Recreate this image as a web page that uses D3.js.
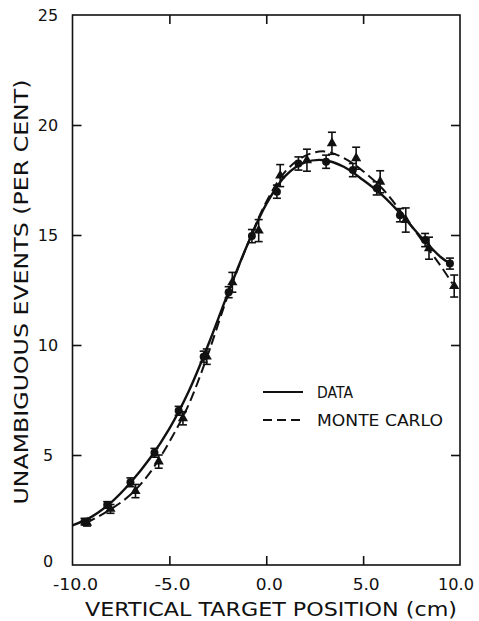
<!DOCTYPE html>
<html>
<head>
<meta charset="utf-8">
<script src="https://cdn.jsdelivr.net/npm/d3@7"></script>
<style>
  body { margin: 0; background: #fff; }
  text { font-family: "DejaVu Sans", "Liberation Sans", sans-serif; fill: #111; }
</style>
</head>
<body>
<div id="chart"></div>
<script>
// measured points (DATA, filled circles)
const dataX = [-9.38, -8.21, -7.01, -5.77, -4.52, -3.23, -1.94, -0.74, 0.55, 1.66, 3.09, 4.47, 5.7, 6.9, 8.2, 9.48];
const dataY = [1.97, 2.73, 3.76, 5.10, 7.01, 9.47, 12.4, 14.95, 16.97, 18.25, 18.33, 17.95, 17.12, 15.9, 14.77, 13.7];
const dataErr = [0.15, 0.15, 0.2, 0.2, 0.2, 0.25, 0.25, 0.3, 0.3, 0.3, 0.3, 0.3, 0.3, 0.3, 0.3, 0.25];

// monte carlo points
const mcX = [-9.25, -8.04, -6.75, -5.55, -4.3, -3.07, -1.75, -0.39, 0.72, 2.1, 3.39, 4.64, 5.88, 7.2, 8.4, 9.7];
const mcY = [1.92, 2.55, 3.36, 4.7, 6.67, 9.47, 12.85, 15.2, 17.7, 18.4, 19.17, 18.49, 17.42, 15.68, 14.4, 12.68];
const mcErr = [0.15, 0.2, 0.3, 0.3, 0.3, 0.35, 0.45, 0.5, 0.5, 0.5, 0.5, 0.5, 0.5, 0.55, 0.5, 0.5];

// smooth curves drawn through each set
const solidX = [-10, -9, -8, -7, -6, -5, -4, -3, -2, -1, 0, 1, 2, 3, 4, 5, 6, 7, 8, 9, 9.48];
const solidY = [1.8, 2.2, 2.85, 3.75, 4.85, 6.2, 7.9, 10.0, 12.3, 14.5, 16.4, 17.7, 18.3, 18.4, 18.1, 17.5, 16.8, 15.9, 14.9, 14.0, 13.7];
const dashX = [-9.3, -8, -7, -6, -5, -4, -3, -2, -1, 0, 1, 2, 3, 4, 5, 6, 7, 8, 9, 9.6];
const dashY = [1.9, 2.55, 3.2, 4.2, 5.6, 7.3, 9.6, 12.2, 14.5, 16.5, 17.9, 18.6, 18.8, 18.5, 17.9, 17.1, 16.0, 14.8, 13.6, 12.8];

const xTicks = [-10, -5, 0, 5, 10];
const xTickLabels = ["-10.0", "-5.0", "0.0", "5.0", "10.0"];
const yTicks = [0, 5, 10, 15, 20, 25];
const yTickLabels = ["0", "5", "10", "15", "20", "25"];
const legendNames = ["DATA", "MONTE CARLO"];

let width = 479;
let height = 621;

let svg = d3.select("#chart").append("svg")
  .attr("width", width)
  .attr("height", height);

let x = d3.scaleLinear().domain([-10, 10]).range([72.5, 460]);
let y = d3.scaleLinear().domain([0, 25]).range([565, 15]);

let tickLen = 9;

// frame
svg.append("rect")
  .attr("x", x(-10))
  .attr("y", y(25))
  .attr("width", x(10) - x(-10))
  .attr("height", y(0) - y(25))
  .attr("fill", "none")
  .attr("stroke", "#111")
  .attr("stroke-width", 1.6);

// inward ticks on all four sides
let axisB = d3.axisBottom(x).tickValues(xTicks.slice(1, -1)).tickSize(-tickLen).tickFormat("");
let axisT = d3.axisTop(x).tickValues(xTicks.slice(1, -1)).tickSize(-tickLen).tickFormat("");
let axisL = d3.axisLeft(y).tickValues(yTicks.slice(1, -1)).tickSize(-tickLen).tickFormat("");
let axisR = d3.axisRight(y).tickValues(yTicks.slice(1, -1)).tickSize(-tickLen).tickFormat("");

svg.append("g").attr("transform", `translate(0, ${y(0)})`).call(axisB);
svg.append("g").attr("transform", `translate(0, ${y(25)})`).call(axisT);
svg.append("g").attr("transform", `translate(${x(-10)}, 0)`).call(axisL);
svg.append("g").attr("transform", `translate(${x(10)}, 0)`).call(axisR);

svg.selectAll(".domain").remove();
svg.selectAll(".tick line").attr("stroke", "#111").attr("stroke-width", 1.6);

// tick labels
svg.selectAll(".xlab")
  .data(xTicks)
  .enter()
  .append("text")
  .attr("class", "xlab")
  .attr("x", function (d) { return d === 10 ? x(d) - 4 : x(d) + 3; })
  .attr("y", 590)
  .attr("text-anchor", "middle")
  .attr("font-size", 16)
  .attr("textLength", function (d, i) { return xTickLabels[i].length * 9; })
  .attr("lengthAdjust", "spacingAndGlyphs")
  .text(function (d, i) { return xTickLabels[i]; });

svg.selectAll(".ylab")
  .data(yTicks)
  .enter()
  .append("text")
  .attr("class", "ylab")
  .attr("x", 48)
  .attr("y", function (d) { return d === 0 ? y(d) + 2 : y(d) + 6; })
  .attr("text-anchor", "middle")
  .attr("font-size", 16)
  .text(function (d, i) { return yTickLabels[i]; });

// axis titles
svg.append("text")
  .attr("x", 271)
  .attr("y", 616)
  .attr("text-anchor", "middle")
  .attr("font-size", 20)
  .attr("textLength", 372)
  .attr("lengthAdjust", "spacingAndGlyphs")
  .text("VERTICAL TARGET POSITION (cm)");

svg.append("text")
  .attr("transform", "translate(28, 292) rotate(-90)")
  .attr("text-anchor", "middle")
  .attr("font-size", 19)
  .attr("textLength", 425)
  .attr("lengthAdjust", "spacingAndGlyphs")
  .text("UNAMBIGUOUS EVENTS (PER CENT)");

// curves
let line = d3.line()
  .x(function (d) { return x(d[0]); })
  .y(function (d) { return y(d[1]); })
  .curve(d3.curveCatmullRom);

svg.append("path")
  .datum(d3.zip(solidX, solidY))
  .attr("d", line)
  .attr("fill", "none")
  .attr("stroke", "#111")
  .attr("stroke-width", 2.4);

svg.append("path")
  .datum(d3.zip(dashX, dashY))
  .attr("d", line)
  .attr("fill", "none")
  .attr("stroke", "#111")
  .attr("stroke-width", 2)
  .attr("stroke-dasharray", "10,5");

// error bars
let drawErrors = function (xs, ys, es, cls) {
  let g = svg.selectAll("." + cls)
    .data(d3.zip(xs, ys, es))
    .enter()
    .append("g")
    .attr("class", cls)
    .attr("stroke", "#111")
    .attr("stroke-width", 1.6);

  g.append("line")
    .attr("x1", function (d) { return x(d[0]); })
    .attr("x2", function (d) { return x(d[0]); })
    .attr("y1", function (d) { return y(d[1] - d[2]); })
    .attr("y2", function (d) { return y(d[1] + d[2]); });

  g.append("line")
    .attr("x1", function (d) { return x(d[0]) - 4; })
    .attr("x2", function (d) { return x(d[0]) + 4; })
    .attr("y1", function (d) { return y(d[1] - d[2]); })
    .attr("y2", function (d) { return y(d[1] - d[2]); });

  g.append("line")
    .attr("x1", function (d) { return x(d[0]) - 4; })
    .attr("x2", function (d) { return x(d[0]) + 4; })
    .attr("y1", function (d) { return y(d[1] + d[2]); })
    .attr("y2", function (d) { return y(d[1] + d[2]); });
};

drawErrors(mcX, mcY, mcErr, "mcerr");
drawErrors(dataX, dataY, dataErr, "dataerr");

// markers
svg.selectAll(".mc")
  .data(d3.zip(mcX, mcY))
  .enter()
  .append("path")
  .attr("class", "mc")
  .attr("d", d3.symbol().type(d3.symbolTriangle).size(45))
  .attr("transform", function (d) { return `translate(${x(d[0])}, ${y(d[1])})`; })
  .attr("fill", "#111");

svg.selectAll(".pt")
  .data(d3.zip(dataX, dataY))
  .enter()
  .append("circle")
  .attr("class", "pt")
  .attr("cx", function (d) { return x(d[0]); })
  .attr("cy", function (d) { return y(d[1]); })
  .attr("r", 4)
  .attr("fill", "#111");

// legend
let legend = svg.selectAll(".legend")
  .data(legendNames)
  .enter()
  .append("g")
  .attr("class", "legend")
  .attr("transform", function (d, i) { return `translate(263, ${392 + i * 28})`; });

legend.append("line")
  .attr("x1", 0)
  .attr("x2", 40)
  .attr("stroke", "#111")
  .attr("stroke-width", 2)
  .attr("stroke-dasharray", function (d, i) { return i === 0 ? null : "9,5"; });

legend.append("text")
  .attr("x", 54)
  .attr("y", 6)
  .attr("font-size", 15)
  .attr("textLength", function (d, i) { return i === 0 ? 36 : 126; })
  .attr("lengthAdjust", "spacingAndGlyphs")
  .text(function (d) { return d; });
</script>
</body>
</html>
